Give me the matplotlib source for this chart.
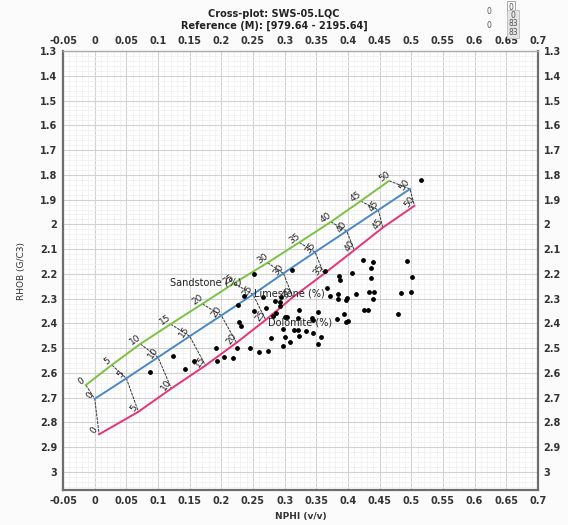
import numpy as np
import matplotlib
matplotlib.use("Agg")
import matplotlib.pyplot as plt
from matplotlib.ticker import MultipleLocator, FuncFormatter

# porosity values along the lithology lines (%)
porosity = [0, 5, 10, 15, 20, 25, 30, 35, 40, 45, 50]

# lithology lines, NPHI (v/v) and RHOB (g/cc) at each porosity tick
sand_nphi = [-0.014, 0.027, 0.072, 0.120, 0.170, 0.220, 0.273, 0.323, 0.373, 0.420, 0.465]
sand_rhob = [2.649, 2.568, 2.483, 2.403, 2.321, 2.238, 2.155, 2.073, 1.990, 1.906, 1.824]
lime_nphi = [0.000, 0.050, 0.100, 0.150, 0.200, 0.250, 0.298, 0.348, 0.398, 0.448, 0.498]
lime_rhob = [2.705, 2.622, 2.537, 2.452, 2.368, 2.283, 2.198, 2.112, 2.027, 1.942, 1.857]
dolo_nphi = [0.007, 0.069, 0.121, 0.175, 0.224, 0.270, 0.313, 0.362, 0.410, 0.455, 0.505]
dolo_rhob = [2.848, 2.757, 2.663, 2.570, 2.478, 2.386, 2.294, 2.200, 2.104, 2.013, 1.925]

# well data points
nphi = [0.515, 0.252, 0.312, 0.363, 0.424, 0.439, 0.494, 0.437, 0.407, 0.386,
        0.388, 0.437, 0.501, 0.367, 0.371, 0.385, 0.385, 0.397, 0.399, 0.413,
        0.434, 0.441, 0.440, 0.484, 0.499, 0.426, 0.431, 0.479, 0.394, 0.382,
        0.397, 0.400, 0.352, 0.343, 0.344, 0.322, 0.303, 0.321, 0.297, 0.315,
        0.321, 0.334, 0.344, 0.323, 0.357, 0.279, 0.301, 0.309, 0.352, 0.298,
        0.271, 0.252, 0.287, 0.281, 0.266, 0.294, 0.293, 0.292, 0.259, 0.273,
        0.246, 0.236, 0.227, 0.228, 0.231, 0.284, 0.300, 0.123, 0.088, 0.142,
        0.157, 0.191, 0.193, 0.204, 0.218, 0.224]
rhob = [1.821, 2.202, 2.186, 2.187, 2.144, 2.151, 2.147, 2.178, 2.195, 2.207,
        2.225, 2.218, 2.214, 2.258, 2.290, 2.281, 2.302, 2.306, 2.299, 2.281,
        2.272, 2.272, 2.302, 2.276, 2.272, 2.347, 2.347, 2.361, 2.362, 2.384,
        2.396, 2.389, 2.352, 2.377, 2.387, 2.346, 2.373, 2.380, 2.424, 2.428,
        2.428, 2.429, 2.440, 2.449, 2.454, 2.459, 2.457, 2.475, 2.484, 2.493,
        2.336, 2.350, 2.360, 2.372, 2.292, 2.292, 2.312, 2.329, 2.514, 2.510,
        2.500, 2.289, 2.326, 2.396, 2.409, 2.308, 2.373, 2.530, 2.597, 2.585,
        2.552, 2.499, 2.552, 2.535, 2.538, 2.500]

fig = plt.figure(figsize=(5.68, 5.25), dpi=100)
fig.patch.set_facecolor("#fbfbfb")
ax = fig.add_axes([0.111, 0.0667, 0.836, 0.836])
ax.set_facecolor("white")

ax.set_xlim(-0.05, 0.7)
ax.set_ylim(3.073, 1.3)

ax.xaxis.set_major_locator(MultipleLocator(0.05))
ax.xaxis.set_minor_locator(MultipleLocator(0.01))
ax.yaxis.set_major_locator(MultipleLocator(0.1))
ax.yaxis.set_minor_locator(MultipleLocator(0.02))
ax.xaxis.set_major_formatter(FuncFormatter(lambda v, p: ("%.2f" % v).rstrip("0").rstrip(".") if abs(v) > 1e-9 else "0"))
ax.yaxis.set_major_formatter(FuncFormatter(lambda v, p: ("%.1f" % v).rstrip("0").rstrip(".")))

ax.grid(which="major", color="#d2d2d2", lw=0.8)
ax.grid(which="minor", color="#efefef", lw=0.5)
ax.set_axisbelow(True)
ax.tick_params(which="both", length=0, labeltop=True, labelright=True,
               labelsize=7, labelcolor="#333333", pad=4)
for lab in ax.get_xticklabels() + ax.get_yticklabels():
    lab.set_fontweight("bold")
for side in ["left", "bottom", "right"]:
    ax.spines[side].set_color("#6e6e6e")
    ax.spines[side].set_linewidth(1.6)
ax.spines["top"].set_color("#aaaaaa")
ax.spines["top"].set_linewidth(1.0)

# lithology lines
ax.plot(sand_nphi, sand_rhob, color="#7cc242", lw=1.4, zorder=3)
ax.plot(lime_nphi, lime_rhob, color="#4a88c9", lw=1.4, zorder=3)
ax.plot(dolo_nphi, dolo_rhob, color="#e8327c", lw=1.4, zorder=3)

# porosity connectors
for i in range(len(porosity)):
    ax.plot([sand_nphi[i], lime_nphi[i], dolo_nphi[i]],
            [sand_rhob[i], lime_rhob[i], dolo_rhob[i]],
            color="#333333", lw=0.7, ls=(0, (3, 1)), zorder=2)

# porosity labels
for xs, ys, rot in [(sand_nphi, sand_rhob, 35), (lime_nphi, lime_rhob, 55), (dolo_nphi, dolo_rhob, 55)]:
    for p, x, y in zip(porosity, xs, ys):
        ax.annotate(str(p), (x, y), xytext=(-5, 4), textcoords="offset pixels",
                    ha="center", va="center", rotation=rot, fontsize=6.5,
                    color="#222222", zorder=4)

ax.scatter(nphi, rhob, s=6, color="black", zorder=5)

ax.text(0.1185, 2.233, "Sandstone (%)", fontsize=7, color="#222222", va="center", zorder=6)
ax.text(0.252, 2.281, "Limestone (%)", fontsize=7, color="#222222", va="center", zorder=6)
ax.text(0.273, 2.397, "Dolomite (%)", fontsize=7, color="#222222", va="center", zorder=6)

ax.set_xlabel("NPHI (v/v)", fontsize=6.5, fontweight="bold", color="#333333", labelpad=5)
ax.set_ylabel("RHOB (G/C3)", fontsize=6.5, color="#333333", labelpad=10)

fig.text(274 / 568, 1 - 14 / 525, "Cross-plot: SWS-05.LQC", ha="center", va="center",
         fontsize=7, fontweight="bold", color="#222222")
fig.text(274 / 568, 1 - 26 / 525, "Reference (M): [979.64 - 2195.64]", ha="center", va="center",
         fontsize=7, fontweight="bold", color="#222222")

# little widget in the top-right corner
wid = dict(fontsize=5.5, color="#555555", ha="center", va="center")
fig.text(489 / 568, 1 - 12 / 525, "0", **wid)
fig.text(489 / 568, 1 - 25 / 525, "0", **wid)
fig.text(511 / 568, 1 - 7 / 525, "0", bbox=dict(fc="white", ec="#999999", lw=0.6, pad=1.0), **wid)
fig.text(513 / 568, 1 - 24 / 525, "0\n83\n83", linespacing=0.9,
         bbox=dict(fc="#e4e4e4", ec="#bbbbbb", lw=0.6, pad=0.8), **wid)

fig.savefig("out.png", dpi=100, facecolor=fig.get_facecolor())
